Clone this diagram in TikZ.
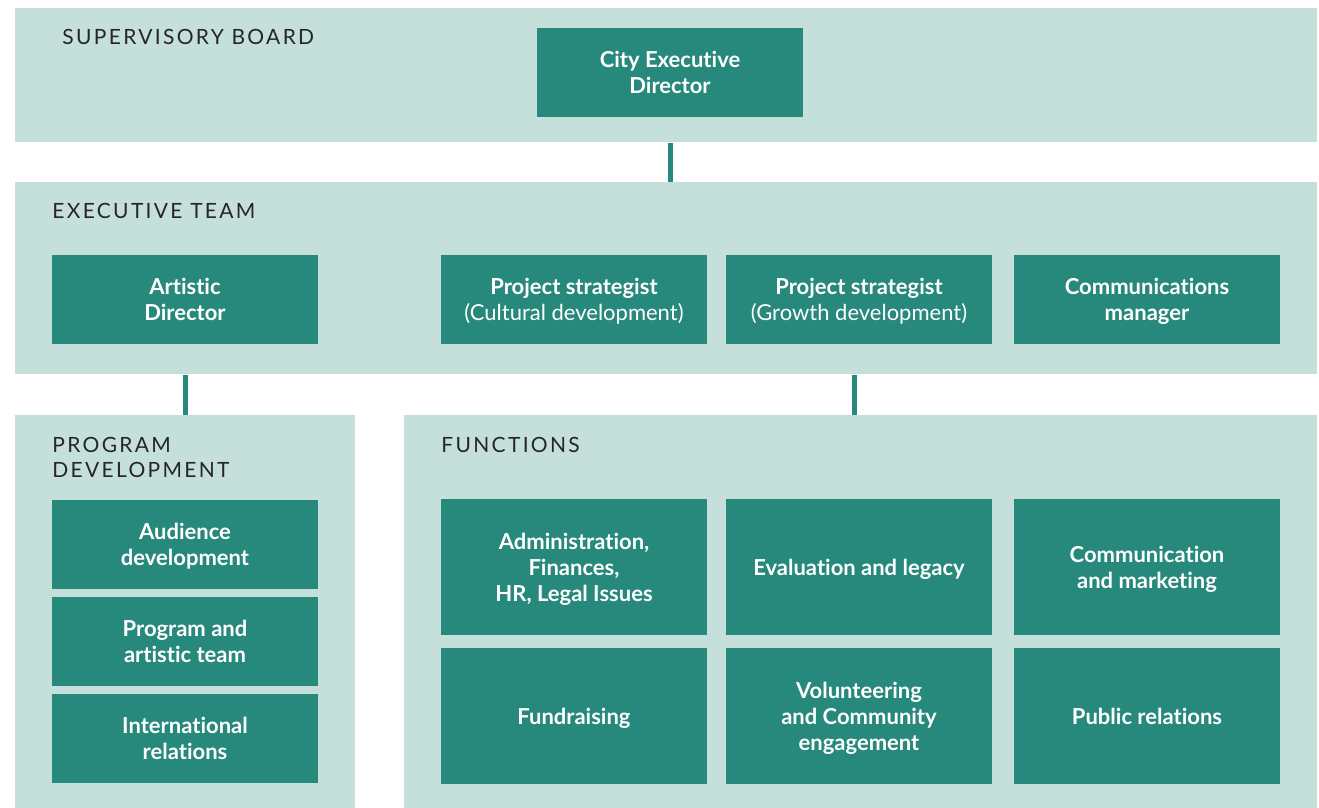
\documentclass[tikz,border=0pt]{standalone}
\usepackage{fontspec}
\setmainfont[Ligatures=NoCommon]{Lato}
\usepackage{xcolor}
\usetikzlibrary{positioning}

\definecolor{panelgreen}{HTML}{C5E0DA}
\definecolor{boxgreen}{HTML}{26897B}

\tikzset{
  panel/.style={fill=panelgreen, anchor=north west, inner sep=0pt},
  unit/.style={fill=boxgreen, text=white, font=\fontsize{11}{13}\selectfont\bfseries,
    align=center, minimum width=133pt, minimum height=44.5pt, inner sep=2pt, text depth=0pt},
  tallunit/.style={unit, minimum height=68pt},
  heading/.style={anchor=base west, inner sep=0pt, align=left, text=black!85,
    font=\fontsize{10.5}{12.5}\selectfont\addfontfeature{LetterSpace=11}},
  link/.style={draw=boxgreen, line width=2.5pt}
}

\begin{document}
\begin{tikzpicture}[x=0.5pt, y=-0.5pt]
\useasboundingbox (0,0) rectangle (1319,808);
% panels
\node[panel, minimum width=651pt, minimum height=67pt] (sb) at (15,8) {};
\node[panel, minimum width=651pt, minimum height=96pt] (et) at (15,182) {};
\node[panel, minimum width=170pt, minimum height=196.5pt] (pd) at (15,415) {};
\node[panel, minimum width=456.5pt, minimum height=196.5pt] (fn) at (404,415) {};
% headings
\node[heading] (sbtitle) at (62,45) {SUPERVISORY BOARD};
\node[heading] (ettitle) at (52,219) {EXECUTIVE TEAM};
\node[heading] (pdtitle) at (52,477) {PROGRAM\\DEVELOPMENT};
\node[heading] (fntitle) at (441,452) {FUNCTIONS};
% boxes
\node[unit] (ced) at (670,72.5) {City Executive\\Director};
\node[unit] (artdir) at (185,299.5) {Artistic\\Director};
\node[unit] (stratcult) at (574,299.5) {Project strategist\\\mdseries(Cultural development)};
\node[unit] (stratgrow) at (859,299.5) {Project strategist\\\mdseries(Growth development)};
\node[unit] (commman) at (1147,299.5) {Communications\\manager};
\node[unit] (audience) at (185,544.5) {Audience\\development};
\node[unit] (artteam) at (185,641.5) {Program and\\artistic team};
\node[unit] (intrel) at (185,738.5) {International\\relations};
\node[tallunit] (admin) at (574,567) {Administration,\\Finances,\\HR, Legal Issues};
\node[tallunit] (legacy) at (859,567) {Evaluation and legacy};
\node[tallunit] (commkt) at (1147,567) {Communication\\and marketing};
\node[tallunit] (fundr) at (574,716) {Fundraising};
\node[tallunit] (volunt) at (859,716) {Volunteering\\and Community\\engagement};
\node[tallunit] (pubrel) at (1147,716) {Public relations};
% connectors
\draw[link] (ced |- sb.south) -- (ced |- et.north);
\draw[link] (artdir |- et.south) -- (artdir |- pd.north);
\coordinate (fntop) at (854,415);
\draw[link] (fntop |- et.south) -- (fntop);
\end{tikzpicture}
\end{document}
